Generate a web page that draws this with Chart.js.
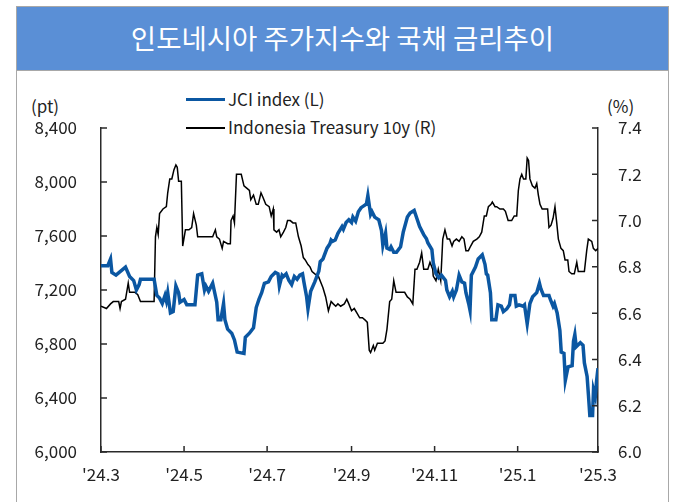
<!DOCTYPE html>
<html>
<head>
<meta charset="utf-8">
<script src="https://cdn.jsdelivr.net/npm/chart.js@4.4.1/dist/chart.umd.min.js"></script>
<style>
  body { margin: 0; width: 673px; height: 502px; overflow: hidden; background: #fff;
         font-family: "Noto Sans CJK KR", "Noto Sans", sans-serif; }
  #frame  { position: absolute; left: 16px; top: 6px; width: 653px; height: 530px;
            border: 1.5px solid #a8a8a8; box-sizing: border-box; }
  #banner { position: absolute; left: 16px; top: 6px; width: 653px; height: 65px;
            background: #5a8fd6; border: 1.5px solid #a8a8a8; box-sizing: border-box;
            color: #fff; font-size: 27.5px; text-align: center; line-height: 60px; }
  .lbl    { position: absolute; font-size: 17px; color: #222; line-height: 20px; white-space: nowrap; }
  .key    { position: absolute; left: 186px; width: 39px; }
  canvas  { position: absolute; left: 0; top: 0; }
</style>
</head>
<body>
<div id="frame"></div>
<div id="banner">인도네시아 주가지수와 국채 금리추이</div>
<div class="lbl" style="left:31px;top:96px;">(pt)</div>
<div class="lbl" style="left:607px;top:96px;">(%)</div>
<div class="key" style="top:98px;height:3px;background:#0b57a2;"></div>
<div class="lbl" style="left:228px;top:89px;">JCI index (L)</div>
<div class="key" style="top:127px;height:2px;background:#000;"></div>
<div class="lbl" style="left:228px;top:117px;">Indonesia Treasury 10y (R)</div>
<canvas id="chart" width="673" height="502"></canvas>
<script>
// x = days since 2024-03-01
const tickDays   = [0, 61, 122, 184, 245, 306, 365];
const tickLabels = ["'24.3", "'24.5", "'24.7", "'24.9", "'24.11", "'25.1", "'25.3"];
const leftTicks  = [6000, 6400, 6800, 7200, 7600, 8000, 8400];
const rightTicks = [6.0, 6.2, 6.4, 6.6, 6.8, 7.0, 7.2, 7.4];

const jciDays = [0,5,7,8,11,18,21,24,26,28, 29,39,41,43,45,47,48,49,51,53,
  55,57,58,61,63,69,71,74,76,77, 79,82,85,86,88,90,91,93,96,98,
  100,105,106,109,112,114,116,118,120,123, 125,128,130,131,133,134,136,138,140,142,
  144,146,148,149,151,152,154,157,160,161, 163,166,168,169,170,172,174,177,178,180,
  182,184,185,187,189,191,194,195,196,198, 199,201,204,206,207,209,210,212,213,215,
  217,220,222,225,227,230,232,234,237,239, 240,243,244,246,248,250,253,254,256,258,
  259,261,263,265,267,268,270,271,272,275, 277,280,282,283,284,286,287,290,291.5,294,
  295.5,298,300,301,304,305,307,310,311,313, 315,317,320,322,323,325,329,330,332,333,
  335,337,338,340,341,343,346,347,348,349, 352,354,355,357,358,359,361,361.7,363,364, 365];
const jciValues = [7380,7380,7430,7330,7310,7370,7300,7270,7200,7240, 7280,7280,7160,7140,7100,7160,7120,7180,7030,7040,
  7230,7180,7110,7130,7090,7090,7310,7320,7200,7230, 7190,7250,7110,6980,6980,7100,6980,6910,6880,6830,
  6740,6730,6850,6880,6920,7070,7130,7180,7250,7260, 7300,7330,7320,7230,7310,7300,7320,7270,7240,7300,
  7280,7310,7320,7260,7150,7060,7190,7260,7340,7410, 7430,7510,7540,7570,7560,7570,7620,7670,7650,7700,
  7720,7700,7740,7710,7780,7810,7830,7840,7900,7760, 7780,7740,7720,7640,7530,7620,7510,7500,7520,7480,
  7480,7520,7630,7740,7770,7790,7730,7670,7610,7580, 7550,7500,7400,7320,7290,7310,7270,7200,7150,7190,
  7150,7200,7310,7260,7250,7180,7100,7050,7310,7370, 7430,7460,7390,7320,7310,7180,6980,6980,7090,7080,
  7040,7060,7090,7160,7160,7080,7090,7080,7090,6950, 7100,7150,7180,7250,7210,7160,7160,7130,7080,7100,
  7030,6900,6740,6730,6530,6630,6640,6820,6870,6780, 6810,6790,6660,6560,6420,6270,6270,6460,6410,6530, 6620];

const yieldDays = [0,4,7,9,13,14,15,18,20,21, 25,27,29,39,40,41,42,43,45.5,48,
  49,50.5,52,53.6,55,56,57,59,60,62, 64.6,66.6,68,70,71,82,84,85,87,89,
  90,93,95,95.5,97,98,99.5,103,105,107, 109,110,112,114,115.5,117.5,119,121,123.5,125,
  126.5,127,129,130.7,132,134,135.7,137,139,141, 143,145,147,148.6,150,152,153.5,155,157,159.6,
  161.6,163,165,167,169,170.6,172.4,174,176,178.7, 180.5,182,184,186,188,190,192,194,195.6,197,
  198,200,201,203,205,207,208.6,210,212,213.5, 215,216.7,219.6,223,225,227,229,230.6,232,234,
  235.5,237,238.7,240,241.6,243.6,244,246,247.7,249.5, 251,252.6,254.3,256,257.8,259,261,263,265,266.6,
  268,269.8,271.5,273.4,276,277.8,279.6,281.5,283,284.5, 286.4,287.4,289.4,290.6,293,295.5,297,299,301.6,303.5,
  305.3,306.5,307.7,309,310.3,312,313,314,315,316.8, 318.7,320,321.2,322.4,324,326,328,329,330.5,332,
  333.4,334.7,335.9,337.8,339.5,340.8,342.8,343.7,345.7,347.6, 349.4,350.5,353,355,356.7,357.9,360.4,361.6,363.3,365];
const yieldValues = [6.63,6.62,6.64,6.65,6.65,6.62,6.65,6.66,6.73,6.69, 6.69,6.68,6.65,6.65,6.93,6.97,6.94,7.03,7.05,7.06,
  7.12,7.18,7.18,7.22,7.24,7.23,7.17,7.17,6.89,6.96, 6.96,6.97,7.03,6.98,6.93,6.93,6.96,6.93,6.92,6.88,
  6.91,6.90,6.90,7.00,7.02,6.99,7.20,7.20,7.15,7.14, 7.13,7.09,7.11,7.07,7.07,7.12,7.10,7.07,7.06,7.02,
  7.05,6.96,6.95,6.96,6.93,6.95,6.97,7.00,7.00,6.99, 6.99,6.93,6.89,6.84,6.83,6.81,6.80,6.78,6.77,6.76,
  6.73,6.71,6.67,6.61,6.65,6.64,6.63,6.64,6.63,6.64, 6.66,6.64,6.61,6.62,6.60,6.58,6.58,6.57,6.56,6.44,
  6.43,6.46,6.44,6.47,6.47,6.47,6.48,6.53,6.65,6.66, 6.74,6.69,6.69,6.69,6.67,6.66,6.64,6.79,6.79,6.82,
  6.86,6.79,6.79,6.79,6.82,6.79,6.76,6.74,6.79,6.74, 6.92,6.96,6.92,6.92,6.89,6.91,6.92,6.91,6.93,6.92,
  6.87,6.87,6.89,6.91,6.92,6.93,6.95,7.02,7.02,7.06, 7.07,7.08,7.06,7.06,7.05,7.05,7.04,7.00,7.00,7.02,
  7.02,7.13,7.18,7.20,7.18,7.18,7.27,7.26,7.18,7.15, 7.14,7.16,7.11,7.07,7.05,7.05,7.05,6.97,6.98,7.01,
  7.06,6.99,6.92,6.88,6.87,6.83,6.83,6.78,6.77,6.77, 6.82,6.78,6.78,6.78,6.87,6.92,6.91,6.88,6.87,6.88];

const axisColor = '#2a2a2a';
const labelFont = { family: '"Noto Sans CJK KR", "Noto Sans", sans-serif', size: 17 };

// short tick marks pointing into the plot
const innerTicks = {
  id: 'innerTicks',
  afterDraw(chart) {
    const { ctx, chartArea: a, scales } = chart;
    ctx.save();
    ctx.strokeStyle = axisColor;
    ctx.lineWidth = 1.5;
    ctx.beginPath();
    tickDays.forEach(d => {
      const x = scales.x.getPixelForValue(d);
      ctx.moveTo(x, a.bottom); ctx.lineTo(x, a.bottom - 6);
    });
    leftTicks.forEach(v => {
      const y = scales.yL.getPixelForValue(v);
      ctx.moveTo(a.left, y); ctx.lineTo(a.left + 6, y);
    });
    rightTicks.forEach(v => {
      const y = scales.yR.getPixelForValue(v);
      ctx.moveTo(a.right, y); ctx.lineTo(a.right - 6, y);
    });
    ctx.stroke();
    ctx.restore();
  }
};

new Chart(document.getElementById('chart'), {
  type: 'line',
  data: {
    datasets: [
      {
        label: 'JCI index (L)',
        data: jciDays.map((d, i) => ({ x: d, y: jciValues[i] })),
        yAxisID: 'yL',
        borderColor: '#0b57a2',
        borderWidth: 3.5,
        pointRadius: 0,
        tension: 0
      },
      {
        label: 'Indonesia Treasury 10y (R)',
        data: yieldDays.map((d, i) => ({ x: d, y: yieldValues[i] })),
        yAxisID: 'yR',
        borderColor: '#000',
        borderWidth: 1.5,
        pointRadius: 0,
        tension: 0
      }
    ]
  },
  options: {
    responsive: false,
    animation: false,
    layout: { padding: { top: 128, left: 0, right: 0, bottom: 0 } },
    plugins: { legend: { display: false }, tooltip: { enabled: false } },
    scales: {
      x: {
        type: 'linear', min: 0, max: 365,
        afterBuildTicks: s => { s.ticks = tickDays.map(v => ({ value: v })); },
        afterFit: s => { s.height = 50; },
        ticks: {
          callback: v => tickLabels[tickDays.indexOf(v)],
          autoSkip: false, maxRotation: 0, padding: 12,
          color: '#222', font: labelFont
        },
        grid: { display: false, drawTicks: false },
        border: { display: true, color: axisColor, width: 1.5 }
      },
      yL: {
        position: 'left', min: 6000, max: 8400,
        afterBuildTicks: s => { s.ticks = leftTicks.map(v => ({ value: v })); },
        afterFit: s => { s.width = 101; },
        ticks: {
          callback: v => v.toLocaleString('en-US'),
          padding: 24, color: '#222', font: labelFont
        },
        grid: { display: false, drawTicks: false },
        border: { display: true, color: axisColor, width: 1.5 }
      },
      yR: {
        position: 'right', min: 6.0, max: 7.4,
        afterBuildTicks: s => { s.ticks = rightTicks.map(v => ({ value: v })); },
        afterFit: s => { s.width = 75; },
        ticks: {
          callback: v => v.toFixed(1),
          padding: 20, color: '#222', font: labelFont
        },
        grid: { display: false, drawTicks: false },
        border: { display: true, color: axisColor, width: 1.5 }
      }
    }
  },
  plugins: [innerTicks]
});
</script>
</body>
</html>
